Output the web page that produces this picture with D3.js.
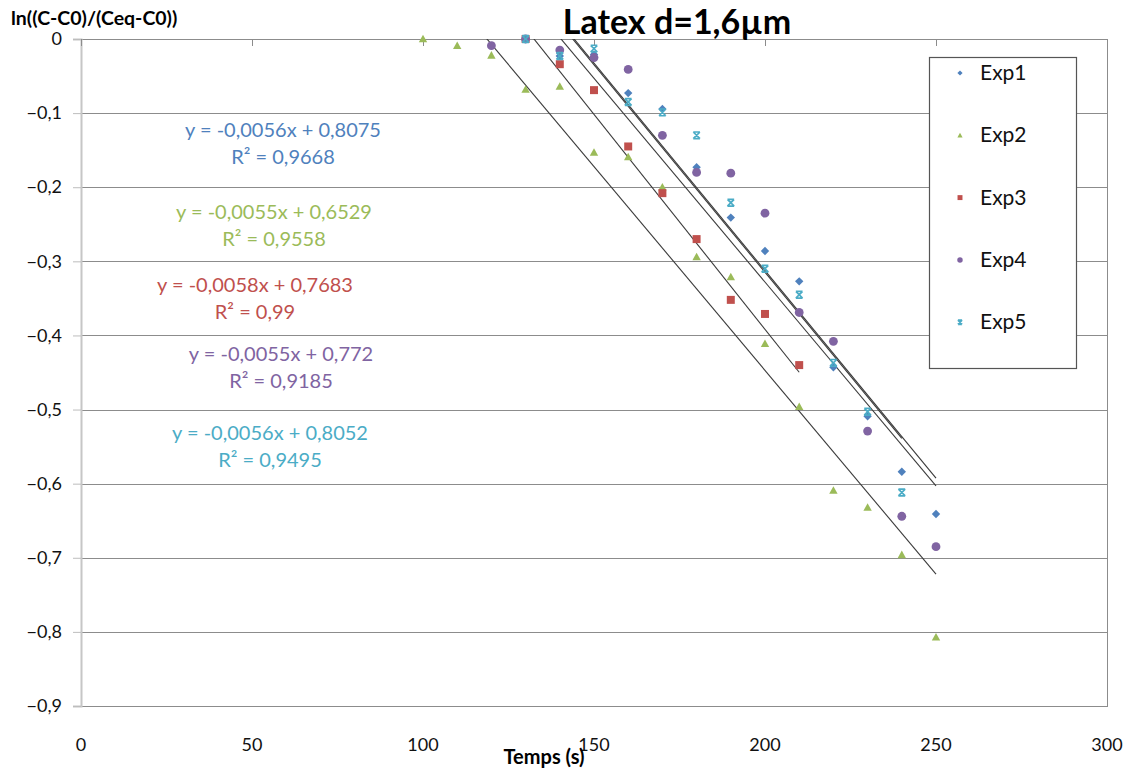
<!DOCTYPE html>
<html>
<head>
<meta charset="utf-8">
<script src="https://cdn.jsdelivr.net/npm/d3@7/dist/d3.min.js"></script>
<style>
  html, body { margin: 0; padding: 0; background: #fff; }
  svg { display: block; }
  text { font-family: "Lato", "Open Sans", sans-serif; }
</style>
</head>
<body>
<svg id="chart" width="1132" height="771"></svg>
<script>
// ---------------- DATA ----------------
const seriesNames = ["Exp1", "Exp2", "Exp3", "Exp4", "Exp5"];
const xTicks = [0, 50, 100, 150, 200, 250, 300];
const yTicks = [0, -0.1, -0.2, -0.3, -0.4, -0.5, -0.6, -0.7, -0.8, -0.9];

const exp1X = [130, 140, 150, 160, 170, 180, 190, 200, 210, 220, 230, 240, 250];
const exp1Y = [0, -0.023, -0.021, -0.073, -0.0945, -0.173, -0.241, -0.286, -0.327, -0.443, -0.509, -0.584, -0.641];

const exp2X = [100, 110, 120, 130, 140, 150, 160, 170, 180, 190, 200, 210, 220, 230, 240, 250];
const exp2Y = [0, -0.009, -0.022, -0.068, -0.064, -0.153, -0.159, -0.200, -0.294, -0.321, -0.411, -0.496, -0.609, -0.632, -0.696, -0.807];

const exp3X = [130, 140, 150, 160, 170, 180, 190, 200, 210];
const exp3Y = [0, -0.034, -0.069, -0.145, -0.208, -0.270, -0.352, -0.371, -0.440];

const exp4X = [120, 130, 140, 150, 160, 170, 180, 190, 200, 210, 220, 230, 240, 250];
const exp4Y = [-0.009, 0, -0.015, -0.025, -0.041, -0.130, -0.180, -0.181, -0.235, -0.369, -0.408, -0.529, -0.644, -0.685];

const exp5X = [130, 140, 150, 160, 170, 180, 190, 200, 210, 220, 230, 240];
const exp5Y = [0, -0.023, -0.013, -0.085, -0.099, -0.130, -0.221, -0.310, -0.345, -0.437, -0.503, -0.612];

// trendline equations as printed on the chart
const trendSlopes = [-0.0056, -0.0055, -0.0058, -0.0055, -0.0056];
const trendIntercepts = [0.8075, 0.6529, 0.7683, 0.772, 0.8052];
const trendR2 = ["0,9668", "0,9558", "0,99", "0,9185", "0,9495"];

// ---------------- STYLE / LAYOUT ----------------
const colors = ["#4F81BD", "#9BBB59", "#C0504D", "#8064A2", "#4BACC6"];
const eqLabelPos = [[283, 130], [274, 212], [255, 285], [281, 354], [270, 433]];
const plot = { left: 81, right: 1107, top: 39, bottom: 706 };

const svg = d3.select("#chart");
const x = d3.scaleLinear().domain([0, 300]).range([plot.left, plot.right]);
const y = d3.scaleLinear().domain([-0.9, 0]).range([plot.bottom, plot.top]);

const series = [
  { xs: exp1X, ys: exp1Y }, { xs: exp2X, ys: exp2Y }, { xs: exp3X, ys: exp3Y },
  { xs: exp4X, ys: exp4Y }, { xs: exp5X, ys: exp5Y }
].map((s, i) => ({
  name: seriesNames[i], color: colors[i],
  points: s.xs.map((v, j) => ({ x: v, y: s.ys[j] })),
  slope: trendSlopes[i], intercept: trendIntercepts[i], r2: trendR2[i]
}));

// gridlines
svg.append("g").selectAll("line").data(yTicks).join("line")
  .attr("x1", plot.left).attr("x2", plot.right)
  .attr("y1", d => Math.round(y(d)) + 0.5).attr("y2", d => Math.round(y(d)) + 0.5)
  .attr("stroke", "#8c8c8c").attr("stroke-width", 1);

// right border
svg.append("line").attr("x1", plot.right + 0.5).attr("x2", plot.right + 0.5)
  .attr("y1", plot.top).attr("y2", plot.bottom + 1).attr("stroke", "#8c8c8c");

// left y axis (ticks + labels)
const yAxis = d3.axisLeft(y).tickValues(yTicks).tickSize(8)
  .tickFormat(d => d === 0 ? "0" : d3.format(".1f")(d).replace(".", ","));
const gy = svg.append("g").attr("transform", `translate(${plot.left},0)`).call(yAxis);
gy.select(".domain").attr("stroke", "#c6c6c6").attr("stroke-width", 2);
gy.selectAll(".tick line").attr("stroke", "#bdbdbd");
gy.selectAll(".tick text").attr("font-size", 18).attr("fill", "#111").attr("x", -19)
  .attr("font-family", "Lato, 'Open Sans', sans-serif");

// x axis: line at y=0 with inward ticks, labels at bottom
const gxTop = svg.append("g").attr("transform", `translate(0,${y(0)})`)
  .call(d3.axisBottom(x).tickValues(xTicks).tickSize(7).tickFormat(""));
gxTop.select(".domain").remove();
gxTop.selectAll(".tick line").attr("stroke", "#8c8c8c");

svg.append("g").selectAll("text").data(xTicks).join("text")
  .attr("x", d => x(d)).attr("y", 751)
  .attr("text-anchor", "middle").attr("font-size", 18).attr("fill", "#111")
  .text(d => d);

// trendlines
svg.append("clipPath").attr("id", "clip").append("rect")
  .attr("x", plot.left).attr("y", plot.top).attr("width", plot.right - plot.left).attr("height", plot.bottom - plot.top);
const tl = svg.append("g").attr("clip-path", "url(#clip)");
series.forEach(s => {
  const x0 = d3.min(s.points, p => p.x), x1 = d3.max(s.points, p => p.x);
  tl.append("line")
    .attr("x1", x(x0)).attr("y1", y(s.slope * x0 + s.intercept))
    .attr("x2", x(x1)).attr("y2", y(s.slope * x1 + s.intercept))
    .attr("stroke", "#3a3a3a").attr("stroke-width", 1.1);
});

// markers
function marker(g, i, size) {
  const c = colors[i];
  const r = size;
  if (i === 0) {
    g.append("path").attr("d", `M0,${-r}L${r},0L0,${r}L${-r},0Z`).attr("fill", c);
  } else if (i === 1) {
    g.append("path").attr("d", `M0,${-r}L${r},${r * 0.8}L${-r},${r * 0.8}Z`).attr("fill", c);
  } else if (i === 2) {
    const h = r * 0.95;
    g.append("rect").attr("x", -h).attr("y", -h).attr("width", 2 * h).attr("height", 2 * h).attr("fill", c);
  } else if (i === 3) {
    g.append("circle").attr("r", r * 1.05).attr("fill", c);
  } else {
    const h = r * 0.8;
    g.append("path").attr("d", `M${-h},${-h}L${h},${h}M${h},${-h}L${-h},${h}M${-h},${-h}L${h},${-h}M${-h},${h}L${h},${h}`)
      .attr("stroke", c).attr("stroke-width", 1.7).attr("fill", "none");
  }
}
series.forEach((s, i) => {
  const g = svg.append("g");
  s.points.forEach(p => {
    const mg = g.append("g").attr("transform", `translate(${x(p.x)},${y(p.y)})`);
    marker(mg, i, 4.2);
  });
});

// equation labels
const fmt4 = v => Math.abs(v).toString().replace(".", ",");
series.forEach((s, i) => {
  const [cx, cy] = eqLabelPos[i];
  const t = svg.append("text").attr("text-anchor", "middle").attr("font-size", 20).attr("fill", colors[i]);
  t.append("tspan").attr("x", cx).attr("y", cy + 7)
    .text(`y = -${fmt4(s.slope)}x + ${fmt4(s.intercept)}`);
  t.append("tspan").attr("x", cx).attr("y", cy + 34)
    .text(`R² = ${s.r2}`);
});

// legend
const lg = svg.append("g");
lg.append("rect").attr("x", 929.5).attr("y", 57.5).attr("width", 147).attr("height", 311)
  .attr("fill", "#fff").attr("stroke", "#555").attr("stroke-width", 1.2);
series.forEach((s, i) => {
  const cy = 73 + i * 62.3;
  const mg = lg.append("g").attr("transform", `translate(960,${cy})`);
  marker(mg, i, 2.6);
  lg.append("text").attr("x", 980).attr("y", cy + 7).attr("font-size", 21).attr("fill", "#111").text(s.name);
});

// titles
svg.append("text").attr("x", 677).attr("y", 34).attr("text-anchor", "middle")
  .attr("font-size", 34).attr("font-weight", "bold").attr("fill", "#000").text("Latex d=1,6µm");
svg.append("text").attr("x", 11).attr("y", 25)
  .attr("font-size", 19.5).attr("font-weight", "bold").attr("fill", "#000").text("ln((C-C0)/(Ceq-C0))");
svg.append("text").attr("x", 544).attr("y", 764).attr("text-anchor", "middle")
  .attr("font-size", 20).attr("font-weight", "bold").attr("fill", "#000").text("Temps (s)");
</script>
</body>
</html>
